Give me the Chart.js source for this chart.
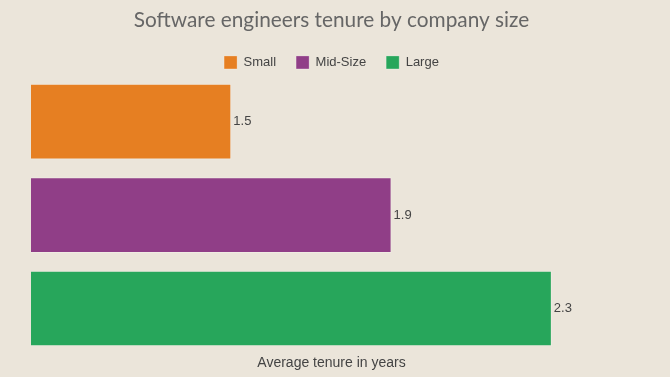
<!DOCTYPE html>
<html>
<head>
<meta charset="utf-8">
<script src="https://cdn.jsdelivr.net/npm/chart.js@4"></script>
<style>
  html, body { margin: 0; padding: 0; background: #ebe5da; }
  #wrap { width: 670px; height: 377px; position: relative; }
</style>
</head>
<body>
<div id="wrap"><canvas id="tenureChart"></canvas></div>
<script>
// Data
const categories = ['Small', 'Mid-Size', 'Large'];
const tenureYears = [1.5, 1.9, 2.3];
const barColors = ['#e67f22', '#903e87', '#27a65b'];

// one dataset per company size so the legend shows all three
const datasets = categories.map(function(name, i) {
    return {
        label: name,
        data: categories.map(function(_, j) { return j === i ? tenureYears[i] : null; }),
        backgroundColor: barColors[i],
        borderColor: 'rgba(255,255,255,0.25)',
        borderWidth: 1,
        barPercentage: 0.81,
        categoryPercentage: 1.0
    };
});

// draws the value just right of each bar
const valueLabels = {
    id: 'valueLabels',
    afterDatasetsDraw(chart) {
        const ctx = chart.ctx;
        ctx.save();
        ctx.font = '13px Arial, "Liberation Sans", sans-serif';
        ctx.fillStyle = '#444';
        ctx.textBaseline = 'middle';
        chart.data.datasets.forEach(function(ds, i) {
            const meta = chart.getDatasetMeta(i);
            meta.data.forEach(function(bar, j) {
                if (ds.data[j] == null) return;
                ctx.fillText(ds.data[j].toFixed(1), bar.x + 2, bar.y);
            });
        });
        ctx.restore();
    }
};

const ctx = document.getElementById('tenureChart').getContext('2d');
new Chart(ctx, {
    type: 'bar',
    data: { labels: categories, datasets: datasets },
    options: {
        indexAxis: 'y',
        responsive: true,
        maintainAspectRatio: false,
        animation: false,
        layout: { padding: { left: 31, right: 38, top: 2, bottom: 2 } },
        plugins: {
            title: {
                display: true,
                text: 'Software engineers tenure by company size',
                color: '#666',
                font: { family: 'Lato', size: 20.8, weight: 'normal' },
                padding: { top: 6, bottom: 3 }
            },
            legend: {
                maxHeight: 39,
                labels: {
                    boxWidth: 13,
                    boxHeight: 13,
                    padding: 20,
                    color: '#444',
                    font: { family: 'Arial, "Liberation Sans", sans-serif', size: 13 }
                }
            },
            tooltip: { enabled: false }
        },
        scales: {
            x: {
                min: 1,
                max: 2.5,
                grid: { display: false, drawTicks: false },
                border: { display: false },
                ticks: { display: false },
                title: {
                    display: true,
                    text: 'Average tenure in years',
                    color: '#444',
                    font: { family: 'Arial, "Liberation Sans", sans-serif', size: 14 },
                    padding: { top: 0, bottom: 3 }
                }
            },
            y: {
                display: false,
                stacked: true
            }
        }
    },
    plugins: [valueLabels]
});
</script>
</body>
</html>
